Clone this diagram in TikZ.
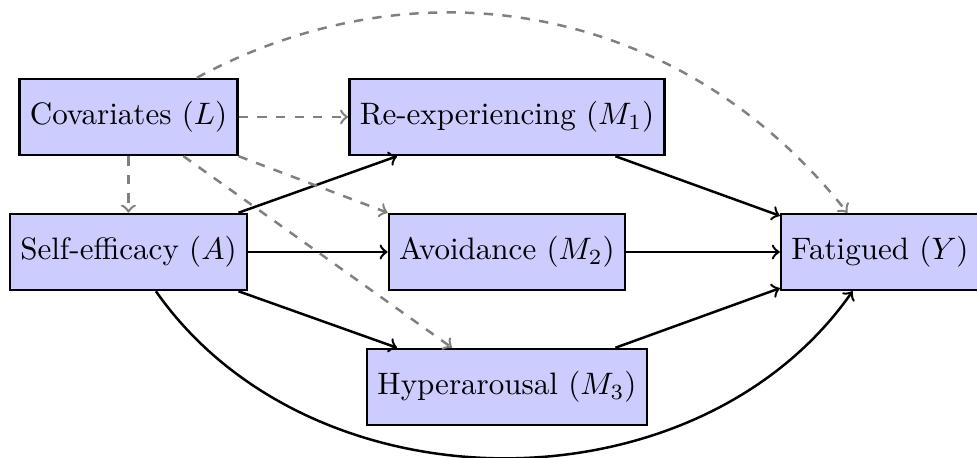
\documentclass[tikz,border=0pt]{standalone}
\usepackage{amsmath}
\usepackage{tikz}
\def\rowsep{1.529}
\def\medx{5.742}

\begin{document}
\begin{tikzpicture}[->,thick,draw=black]
    \tikzstyle{var}=[rectangle,draw=black,fill=blue!20,minimum height=0.861cm]
    \tikzstyle{conf}=[dashed,draw=gray]
    \useasboundingbox (0,0) rectangle (11.065,-5.187);

    % Draw the covariates and the exposure
    \node[var] (L) at (1.455,-1.325) {Covariates $(L)$};
    \node[var] (A) at (1.455,-1.325-\rowsep) {Self-efficacy $(A)$};

    % Draw the mediators
    \node[var] (M-1) at (\medx,-1.325) {Re-experiencing $(M_1)$};
    \node[var] (M-2) at (\medx,-1.325-\rowsep) {Avoidance $(M_2)$};
    \node[var] (M-3) at (\medx,-1.325-2*\rowsep) {Hyperarousal $(M_3)$};

    % Draw the outcome
    \node[var] (Y) at (9.966,-1.325-\rowsep) {Fatigued $(Y)$};

    % Connect the exposure with every mediator
    \foreach \dest in {1,2,3}
        \path (A) edge (M-\dest);

    % Connect every mediator with the outcome
    \foreach \source in {1,2,3}
        \path (M-\source) edge (Y);
    \path (A) edge[bend right=55] (Y);

    % Covariates point to everything
    \path (L) edge[conf] (A);
    \path (L) edge[conf] (M-1);
    \path (L.south east) edge[conf] (M-2.north west);
    \path (L) edge[conf] (M-3);
    \path (L) edge[conf,bend left=40] (Y);
\end{tikzpicture}
\end{document}
